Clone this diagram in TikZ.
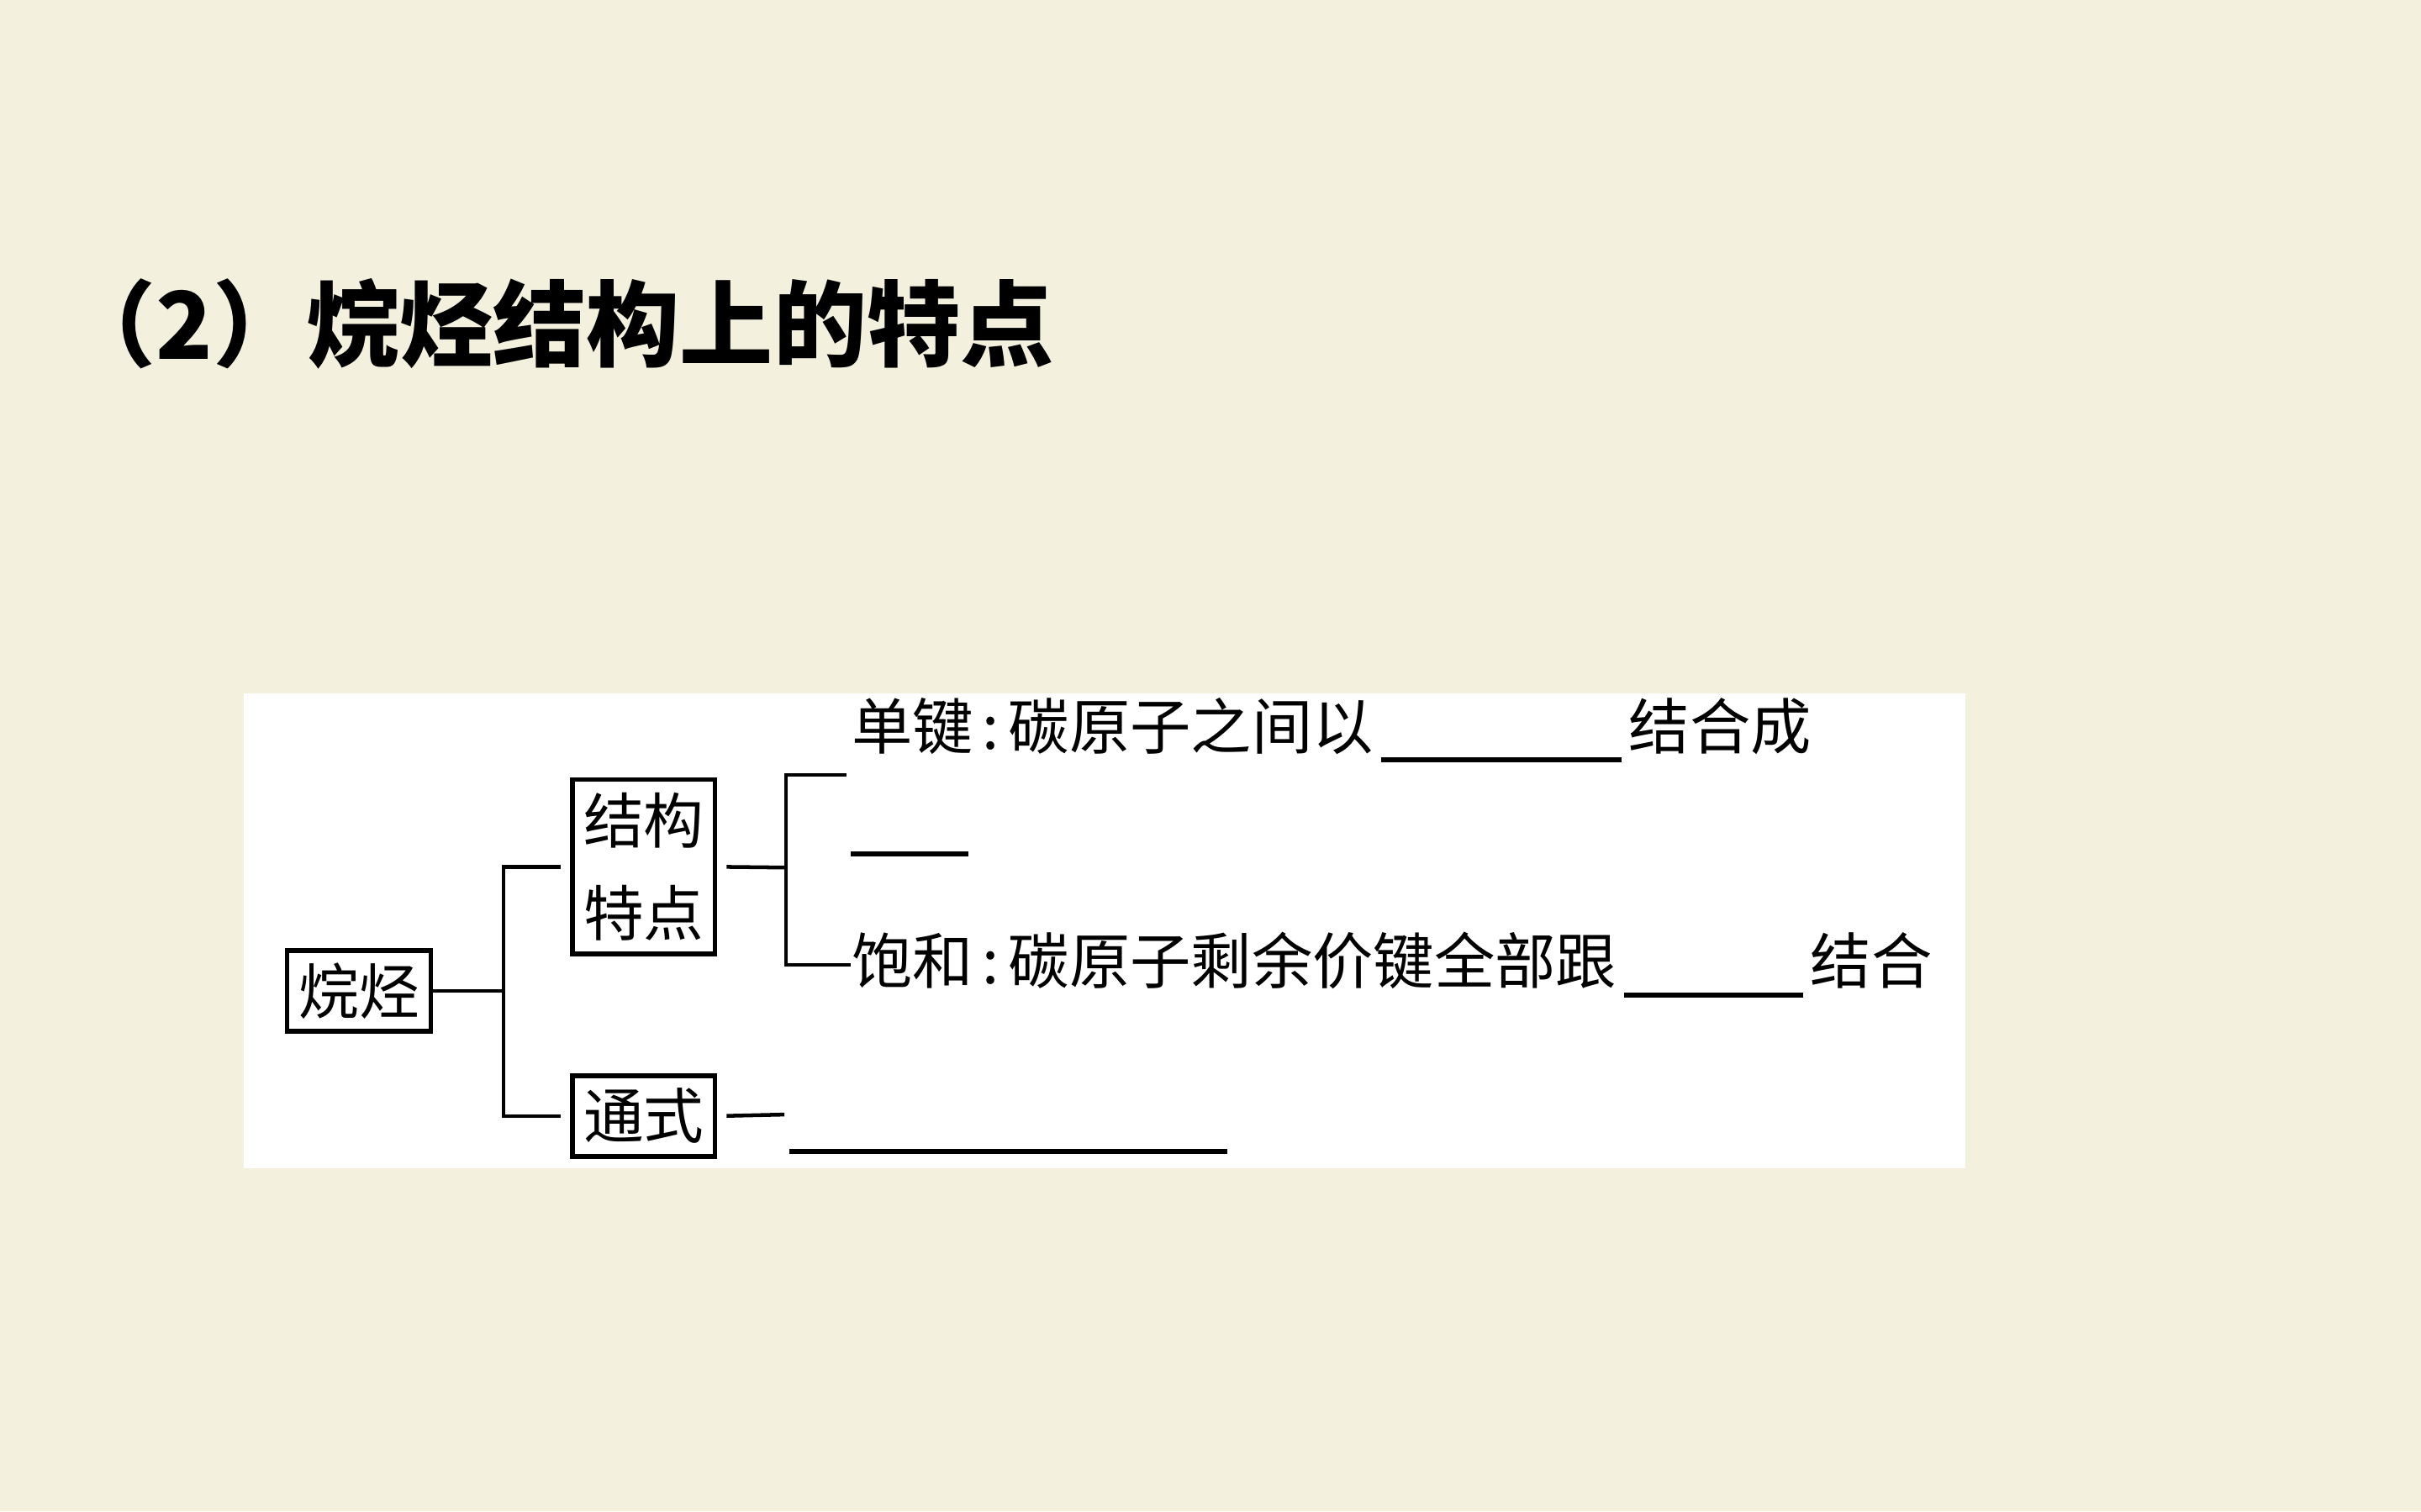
\documentclass[tikz,border=0pt]{standalone}
\usepackage{fontspec}
\usepackage{xcolor}
\newfontfamily\cjk{Noto Sans CJK SC}
\definecolor{paper}{RGB}{243,240,221}
\newcommand\fillin[1]{\hspace{.12em}\rule[-0.22em]{#1}{0.9pt}\hspace{.12em}}
\tikzset{
  sheetbox/.style={draw, line width=0.9pt, inner sep=0pt, align=center,
    font=\cjk\fontsize{11.1}{17}\selectfont, minimum width=0.92cm, minimum height=0.52cm},
  textline/.style={anchor=west, inner sep=0pt, font=\cjk\fontsize{11.2}{15}\selectfont},
  link/.style={line width=0.7pt},
  answer/.style={line width=0.9pt}
}

\begin{document}
\begin{tikzpicture}[x=0.01cm, y=-0.01cm]

% Paper background
\fill[paper] (0,0) rectangle (1568,979);
\useasboundingbox (0,0) rectangle (1568,979);

% Title
\node[anchor=west, inner sep=0pt, font=\cjk\bfseries\fontsize{17.2}{20}\selectfont] (title) at (40,210) {（2）烷烃结构上的特点};

% White panel
\fill[white] (158,449) rectangle (1273,757);

% Boxes
\node[sheetbox, minimum width=0.93cm] (alkane) at (232.5,642) {烷烃};
\node[sheetbox, minimum height=1.13cm] (struct) at (417,561.5) {结构\\特点};
\node[sheetbox] (formula) at (417,723) {通式};

% Text lines
\node[textline] (single) at (551,473) {单键\kern.15em:\kern.15em碳原子之间以\fillin{1.56cm}结合成};
\node[textline] (satur) at (551,625) {饱和\kern.15em:\kern.15em碳原子剩余价键全部跟\fillin{1.16cm}结合};

% Fork points
\coordinate (fork1) at (326,642);
\coordinate (fork2) at (509,562);
\coordinate (tipA) at (548,502);
\coordinate (fend) at (508,722);

% Connectors
\draw[link] (alkane.east) -- (fork1);
\draw[link, shorten >=0.06cm] (fork1) |- (struct.west);
\draw[link, shorten >=0.06cm] (fork1) |- (formula.west);
\draw[link, shorten <=0.06cm] (struct.east) -- (fork2);
\draw[link] (fork2) |- (tipA);
\draw[link] (fork2) |- (satur.west);
\draw[link, shorten <=0.06cm] (formula.east) -- (fend);

% Blanks
\draw[answer] (551,553) -- (627,553);
\draw[answer] (511,746) -- (795,746);

\end{tikzpicture}
\end{document}
